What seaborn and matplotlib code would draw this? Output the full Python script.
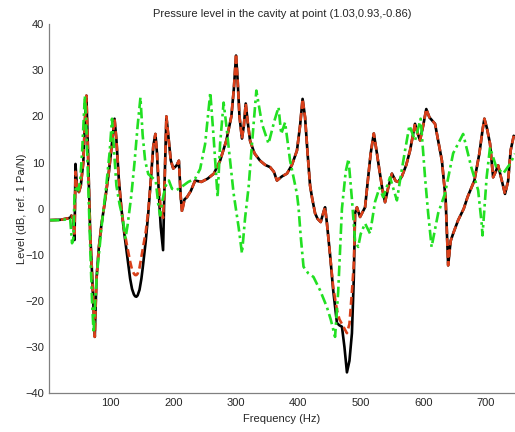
import pandas as pd
import matplotlib
matplotlib.use("Agg")
import matplotlib.pyplot as plt
import seaborn as sns

# frequency (Hz) and level (dB)
freq_a = [1, 20, 35, 37, 40, 42, 43.5, 46, 49, 52, 56, 59, 61, 63, 67, 70, 74.4, 77, 81, 85,
          90, 97, 101, 104, 106, 109, 113, 117, 121, 126, 131, 134, 137, 139, 141, 143, 146,
          149, 151, 156, 160, 164, 168, 171.4, 174, 177, 180, 183.7, 186, 189, 192, 196, 200,
          205, 209, 212, 214, 218, 222, 228, 235, 245, 255, 265, 275, 285, 293, 297, 300.5,
          303, 306, 310, 313, 316, 319, 323, 330, 339, 347, 355, 361, 366, 374, 382, 390, 398,
          403, 407, 411, 415, 419, 422, 427, 431, 436, 441, 443, 446, 451, 456, 462, 466, 470,
          474, 478, 482, 486, 489, 491, 494, 499, 507, 511, 516, 521, 526, 530, 535, 539, 544,
          550, 556, 560, 566, 573, 579, 583, 587, 592, 595, 600, 605, 610, 619, 625, 630, 636,
          640, 644, 648, 656, 665, 671, 682, 690, 695, 698, 702, 707, 712, 716, 720, 726, 731,
          736, 740, 745]

level_black = [-2.5, -2.4, -2.0, -1.5, -2.2, -6.8, 9.7, 4.5, 3.6, 5.0, 10, 20, 24.5, 15, -5, -14,
               -27.8, -15.5, -8.3, -3.5, 1, 8, 13, 17, 19.5, 15, 6.1, 0, -4.7, -10, -15.2, -17.4,
               -18.6, -19.0, -19.1, -18.8, -17.6, -15.2, -13, -7, -1, 6, 13.5, 16.2, 12, 3, -4,
               -9, 5, 20, 16, 10.5, 8.7, 9.3, 10.4, 2.5, -0.4, 2.0, 2.5, 3.8, 6.1, 5.8, 6.5, 7.6,
               10.4, 14.8, 20, 26, 33.2, 28, 20, 15.2, 18, 22.8, 19, 14.7, 12, 10.4, 9.5, 9, 8,
               6.1, 7, 7.6, 9.5, 12.6, 18, 23.8, 19.8, 12, 5, 2.5, -1, -2.2, -2.9, -0.5, 0.3,
               -3.2, -10, -17.7, -24.8, -25.3, -25.6, -30, -35.5, -33, -27, -15, -1, 0.3, -1.8,
               0.3, 5.5, 12, 16.3, 12, 8.3, 4, 1.4, 4.5, 7.6, 6, 5.8, 7, 9.5, 12.6, 15.5, 18.4,
               16, 14.8, 18, 21.6, 19.8, 18.4, 14, 10.4, 2, -12.3, -7, -5.4, -2.5, 0, 2.5, 6.1,
               12, 17, 19.5, 17.5, 14.1, 6.8, 8, 9.4, 6, 3.2, 6, 12.6, 15.8]

level_red = [-2.5, -2.4, -2.0, -1.5, -2.2, -6.0, 8.0, 4.5, 3.6, 5.0, 10, 20, 24.5, 15, -5, -14,
             -27.8, -15.5, -8.3, -3.5, 1, 8, 13, 17, 19.5, 15, 6.1, 0, -4.2, -8, -11.5, -13.2,
             -14.1, -14.4, -14.4, -14.1, -12.8, -10.5, -9, -5, -0.5, 6, 13.5, 16.2, 12, 5, 0,
             -2, 5, 20, 16, 10.5, 8.7, 9.3, 10.4, 2.5, -0.8, 2.0, 2.5, 3.8, 6.1, 5.8, 6.5, 7.6,
             10.4, 14.8, 20, 26, 33.6, 28, 20, 15.2, 18, 22.8, 19, 14.7, 12, 10.4, 9.5, 9, 8,
             6.1, 7, 7.6, 9.5, 12.6, 18, 23.8, 19.8, 12, 5, 2.5, -1, -2.2, -2.9, -0.5, 0.3,
             -3.2, -10, -17, -22, -24, -25, -26, -27, -25, -18, -12, -1, 0.3, -1.8, 0.3, 5.5,
             12, 16.3, 12, 8.3, 4, 1.4, 4.5, 7.6, 6, 5.8, 7, 9.5, 12.6, 15.5, 18.4, 16, 14.8,
             18, 21.6, 19.8, 18.4, 14, 10.4, 2, -12.3, -7, -5.4, -2.5, 0, 2.5, 6.1, 12, 17,
             19.5, 17.5, 14.1, 6.8, 8, 9.4, 6, 3.2, 6, 12.6, 15.8]

freq_b = [1, 20, 35, 38, 40, 42, 45, 48, 51, 54, 58.5, 61, 64, 67, 70, 72.5, 75, 78, 82, 86,
          92, 98, 102, 105, 109, 114, 119, 123.5, 127, 133, 138, 143, 147.5, 151, 155, 160,
          166, 172, 176, 179, 183, 188, 193, 198, 205, 213, 224, 235, 243, 251, 259.3, 264.6,
          271, 275, 280.6, 285, 291, 296.6, 304.6, 310, 315, 320.6, 326, 333, 342, 352.5, 362,
          368.5, 372.8, 379, 387, 398, 400.5, 404, 408.5, 416, 424.4, 435, 445.8, 452, 459,
          464, 470, 476, 480.5, 486, 491, 496, 500, 507, 515, 523, 530, 536, 547, 553, 558,
          564, 571, 578, 587, 596, 603, 608, 613.5, 624, 635, 648, 664, 677, 688, 693.6, 695,
          701.6, 707, 717, 728, 739, 747]

level_green = [-2.5, -2.5, -2.2, -7.5, -6.5, 3, 5, 4, 6, 12, 24.5, 17, 5, -8, -20, -27, -20,
               -14, -8.5, -3, 4, 12, 19.5, 13, 5, 1, -2, -6.4, -3.5, 3, 10, 18, 24.1, 16, 10.4,
               7.5, 6.8, 6, 1, -1.5, 2, 5, 6.1, 4.3, 4, 4.7, 5.8, 6.5, 8.6, 14, 25.2, 15.5, 2.5,
               14.1, 23, 18, 10.4, 3.3, -4, -9.7, -2, 4.7, 14, 25.6, 18.4, 14.1, 19.1, 22, 16.2,
               18.7, 10.4, 3.2, 0.3, -6, -12.6, -14, -14.8, -17.7, -21.3, -24, -27.8, -18, 0, 8,
               10.8, 2, -7, -8.3, -5.5, -3.2, -5.4, 1.5, 4.5, 2.5, 6.8, 4, 1.8, 7, 12.6, 18, 14.8,
               19.5, 6.8, -1, -8.3, -1, 3.3, 12, 16.2, 9, 4, -3.2, -5.8, 6.8, 13.3, 9, 7.6, 9.7,
               11.9]

df_black = pd.DataFrame({"freq": freq_a, "level": level_black})
df_red = pd.DataFrame({"freq": freq_a, "level": level_red})
df_green = pd.DataFrame({"freq": freq_b, "level": level_green})

sns.set_style("white")
plt.rcParams["font.family"] = ["Liberation Sans", "DejaVu Sans"]

fig = plt.figure(figsize=(5.15, 4.32), dpi=100)
ax = fig.add_axes([0.095, 0.090, 0.905, 0.854])

sns.lineplot(data=df_black, x="freq", y="level", ax=ax, color="black", linewidth=1.9, sort=False)
sns.lineplot(data=df_red, x="freq", y="level", ax=ax, color="#d9401a", linewidth=1.9,
             sort=False, linestyle=(0, (3, 1.5)))
sns.lineplot(data=df_green, x="freq", y="level", ax=ax, color="#22e022", linewidth=1.9,
             sort=False, linestyle=(0, (4, 1.5, 1, 1.5)))

ax.set_xlim(1, 747)
ax.set_ylim(-40, 40)
ax.set_xticks([100, 200, 300, 400, 500, 600, 700])
ax.set_yticks(range(-40, 41, 10))
ax.tick_params(direction="in", length=3.5, width=0.8, labelsize=8, color="#808080")
for side in ["top", "right"]:
    ax.spines[side].set_visible(False)
for side in ["left", "bottom"]:
    ax.spines[side].set_color("#808080")
    ax.spines[side].set_linewidth(0.9)

ax.set_title("Pressure level in the cavity at point (1.03,0.93,-0.86)", fontsize=8, pad=5)
ax.set_xlabel("Frequency (Hz)", fontsize=8, labelpad=4)
ax.set_ylabel("Level (dB, ref. 1 Pa/N)", fontsize=8, labelpad=-1)

fig.savefig("out.png", dpi=100)
